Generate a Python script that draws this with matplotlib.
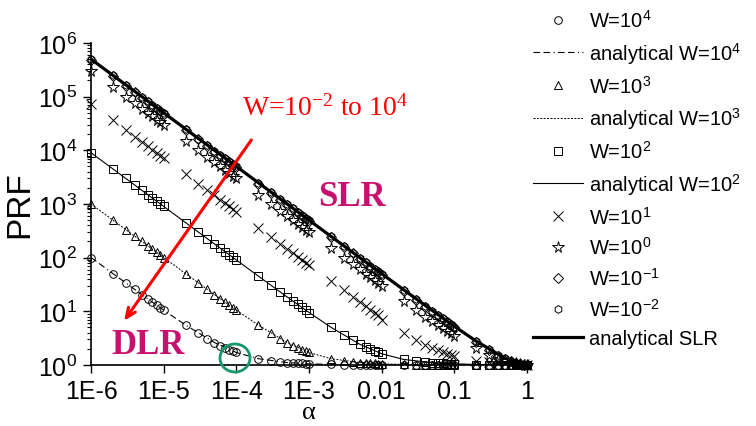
import matplotlib
matplotlib.use("Agg")
import matplotlib.pyplot as plt
from matplotlib.patches import Ellipse
from matplotlib.ticker import NullFormatter

plt.rcParams["font.family"] = ["Liberation Sans", "DejaVu Sans"]
plt.rcParams["mathtext.default"] = "regular"

# simulated points: alpha = 1..9 x 10^k (k = -6..-1) and alpha = 1
alpha = [1e-6, 2e-6, 3e-6, 4e-6, 5e-6, 6e-6, 7e-6, 8e-6, 9e-6,
         1e-5, 2e-5, 3e-5, 4e-5, 5e-5, 6e-5, 7e-5, 8e-5, 9e-5,
         1e-4, 2e-4, 3e-4, 4e-4, 5e-4, 6e-4, 7e-4, 8e-4, 9e-4,
         1e-3, 2e-3, 3e-3, 4e-3, 5e-3, 6e-3, 7e-3, 8e-3, 9e-3,
         0.01, 0.02, 0.03, 0.04, 0.05, 0.06, 0.07, 0.08, 0.09,
         0.1, 0.2, 0.3, 0.4, 0.5, 0.6, 0.7, 0.8, 0.9,
         1.0]

prf_w1e4 = [100, 50, 34, 25.5, 20.5, 17.2, 14.8, 13.0, 11.6,
            10.5, 5.5, 3.9, 3.1, 2.6, 2.3, 2.1, 1.93, 1.8,
            1.71, 1.31, 1.19, 1.14, 1.11, 1.09, 1.08, 1.07, 1.06,
            1.05, 1.03, 1.02, 1.01, 1.01, 1.01, 1.01, 1.01, 1.01,
            1.0, 1.0, 1.0, 1.0, 1.0, 1.0, 1.0, 1.0, 1.0,
            1.0, 1.0, 1.0, 1.0, 1.0, 1.0, 1.0, 1.0, 1.0,
            1.0]
prf_w1e3 = [1000, 500, 333, 250, 200, 167, 143, 125, 112,
            100, 50, 34, 25.5, 20.5, 17.2, 14.8, 13.0, 11.6,
            10.5, 5.5, 3.9, 3.1, 2.6, 2.3, 2.1, 1.93, 1.8,
            1.71, 1.31, 1.19, 1.14, 1.11, 1.09, 1.08, 1.07, 1.06,
            1.05, 1.03, 1.02, 1.01, 1.01, 1.01, 1.01, 1.01, 1.01,
            1.0, 1.0, 1.0, 1.0, 1.0, 1.0, 1.0, 1.0, 1.0,
            1.0]
prf_w1e2 = [9000, 4500, 3000, 2250, 1800, 1500, 1290, 1125, 1000,
            900, 450, 300, 225, 180, 150, 129, 113, 101,
            90.5, 45.5, 30.5, 23, 18.5, 15.5, 13.4, 11.8, 10.5,
            9.5, 5.05, 3.6, 2.86, 2.43, 2.15, 1.96, 1.82, 1.71,
            1.62, 1.27, 1.17, 1.12, 1.10, 1.09, 1.07, 1.06, 1.06,
            1.05, 1.02, 1.02, 1.01, 1.01, 1.01, 1.01, 1.01, 1.0,
            1.0]
prf_w1e1 = [72000, 36000, 24000, 18000, 14400, 12000, 10300, 9000, 8000,
            7200, 3600, 2400, 1800, 1440, 1200, 1030, 900, 800,
            720, 360, 240, 180, 144, 120, 103, 90.5, 80.5,
            72.5, 36.5, 24.5, 18.5, 14.9, 12.5, 10.8, 9.5, 8.5,
            7.0, 3.9, 2.9, 2.4, 2.1, 1.88, 1.73, 1.62, 1.54,
            1.48, 1.21, 1.13, 1.10, 1.08, 1.07, 1.06, 1.05, 1.04,
            1.0]
prf_w1e0 = [300000, 150000, 100000, 75000, 60000, 50000, 42900, 37500, 33300,
            30000, 15000, 10000, 7500, 6000, 5000, 4290, 3750, 3330,
            3000, 1500, 1000, 750, 600, 500, 429, 375, 333,
            300, 150, 100, 75.5, 60.5, 50.5, 43.4, 38, 33.8,
            30.2, 15.3, 10.4, 7.9, 6.5, 5.5, 4.8, 4.3, 3.9,
            3.5, 2.1, 1.55, 1.3, 1.2, 1.1, 1.07, 1.04, 1.02,
            1.0]
prf_w1em1 = [480000, 240000, 160000, 120000, 95000, 80000, 68000, 60000, 53000,
             48000, 24000, 16000, 12000, 9500, 8000, 6800, 6000, 5300,
             4800, 2400, 1600, 1200, 950, 800, 680, 600, 530,
             480, 240, 160, 120, 96, 80, 68, 60, 53,
             48, 24, 16, 12.2, 9.8, 8.2, 7.1, 6.2, 5.6,
             5.0, 2.7, 1.9, 1.5, 1.3, 1.17, 1.09, 1.04, 1.01,
             1.0]
prf_w1em2 = [500000, 250000, 166000, 124000, 99000, 83000, 71000, 62000, 55000,
             50000, 25000, 16600, 12400, 9900, 8300, 7100, 6200, 5500,
             5000, 2500, 1660, 1240, 990, 830, 710, 620, 550,
             497, 249, 166, 124, 99.5, 83, 71, 62.4, 55.5,
             50, 25.2, 16.8, 12.7, 10.2, 8.6, 7.4, 6.5, 5.8,
             5.2, 2.76, 1.95, 1.55, 1.33, 1.19, 1.10, 1.04, 1.01,
             1.0]

# analytical curves
alpha_line = [1e-6, 2e-6, 5e-6, 1e-5, 2e-5, 5e-5, 1e-4, 2e-4, 5e-4, 1e-3,
              2e-3, 5e-3, 0.01, 0.02, 0.05, 0.1, 0.2, 0.5, 1.0]
ana_w1e4 = [100.5, 50.5, 20.5, 10.5, 5.55, 2.62, 1.71, 1.31, 1.11, 1.05,
            1.025, 1.01, 1.005, 1.0, 1.0, 1.0, 1.0, 1.0, 1.0]
ana_w1e3 = [1000, 500, 200, 100.5, 50.5, 20.5, 10.5, 5.55, 2.62, 1.71,
            1.31, 1.11, 1.05, 1.025, 1.01, 1.005, 1.0, 1.0, 1.0]
ana_w1e2 = [9000, 4500, 1800, 900, 450, 180, 90.5, 45.5, 18.5, 9.53,
            5.05, 2.43, 1.62, 1.27, 1.10, 1.05, 1.023, 1.009, 1.0]
ana_slr = [500000, 250000, 100000, 50000, 25000, 10000, 5000, 2500, 1000, 500,
           250, 100, 50.3, 25.3, 10.3, 5.26, 2.78, 1.33, 1.0]

xtick_vals = [1e-6, 1e-5, 1e-4, 1e-3, 0.01, 0.1, 1]
xtick_labels = ["1E-6", "1E-5", "1E-4", "1E-3", "0.01", "0.1", "1"]

fig = plt.figure(figsize=(7.56, 4.27), dpi=100)
ax = fig.add_axes([0.1204, 0.1429, 0.5767, 0.7541])

mk = dict(ls="none", mfc="none", mec="black", mew=0.7, clip_on=False)
h = []
h += ax.plot(alpha, prf_w1e4, marker="o", ms=5.5, label="W=10$^{4}$", **mk)
h += ax.plot(alpha_line, ana_w1e4, color="black", lw=0.8, dashes=[6, 3, 6, 3, 1, 3],
             label="analytical W=10$^{4}$")
h += ax.plot(alpha, prf_w1e3, marker="^", ms=6, label="W=10$^{3}$", **mk)
h += ax.plot(alpha_line, ana_w1e3, color="black", lw=0.7, dashes=[2, 1.5],
             label="analytical W=10$^{3}$")
h += ax.plot(alpha, prf_w1e2, marker="s", ms=5.5, label="W=10$^{2}$", **mk)
h += ax.plot(alpha_line, ana_w1e2, color="black", lw=0.8, label="analytical W=10$^{2}$")
h += ax.plot(alpha, prf_w1e1, marker="x", ms=6.5, label="W=10$^{1}$", **mk)
h += ax.plot(alpha, prf_w1e0, marker="*", ms=8.5, label="W=10$^{0}$", **mk)
h += ax.plot(alpha, prf_w1em1, marker="D", ms=5, label="W=10$^{-1}$", **mk)
h += ax.plot(alpha, prf_w1em2, marker="h", ms=5.5, label="W=10$^{-2}$", **mk)
h += ax.plot(alpha_line, ana_slr, color="black", lw=2.3, label="analytical SLR")

ax.set_xscale("log")
ax.set_yscale("log")
ax.set_xlim(1e-6, 1)
ax.set_ylim(1, 1e6)
ax.set_xticks(xtick_vals, labels=xtick_labels)
ax.xaxis.set_minor_formatter(NullFormatter())
ax.tick_params(which="major", length=6, width=1.0, labelsize=18, pad=4)
ax.tick_params(which="minor", length=3, width=0.8)
for s in ("top", "right"):
    ax.spines[s].set_visible(False)
for s in ("left", "bottom"):
    ax.spines[s].set_linewidth(1.2)

ax.set_xlabel("α", fontfamily="Liberation Serif", fontsize=19, labelpad=-1.5)
ax.set_ylabel("PRF", fontsize=24, labelpad=2)

# annotations
ax.annotate("", xy=(2.85e-6, 6.65), xytext=(1.61e-4, 1.56e4),
            arrowprops=dict(arrowstyle="->,head_length=0.7,head_width=0.3",
                            color="red", lw=2.2, shrinkA=0, shrinkB=0))
fig.text(325 / 756, 1 - 108 / 427, "W=10$^{-2}$ to 10$^{4}$", color="red",
         fontfamily="Liberation Serif", fontsize=20, ha="center", va="center")
fig.text(352 / 756, 1 - 197 / 427, "SLR", color="#C8106E", fontweight="bold",
         fontfamily="Liberation Serif", fontsize=25, ha="center", va="center")
fig.text(148 / 756, 1 - 346 / 427, "DLR", color="#C8106E", fontweight="bold",
         fontfamily="Liberation Serif", fontsize=25, ha="center", va="center")
fig.add_artist(Ellipse((235 / 756, 1 - 359 / 427), 30 / 756, 28 / 427,
                       transform=fig.transFigure, fill=False,
                       edgecolor="#15966E", lw=2))

fig.legend(handles=h, loc="upper left", bbox_to_anchor=(533 / 756, 1 - 10 / 427),
           frameon=False, borderpad=0, borderaxespad=0, handlelength=2.5,
           handletextpad=0.3, labelspacing=0.44, fontsize=14.5, numpoints=1)

fig.savefig("out.png", dpi=100)
